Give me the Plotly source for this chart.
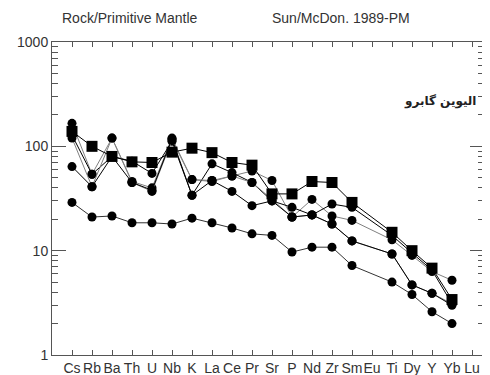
import plotly.graph_objects as go

elements = ["Cs", "Rb", "Ba", "Th", "U", "Nb", "K", "La", "Ce", "Pr", "Sr",
            "P", "Nd", "Zr", "Sm", "Eu", "Ti", "Dy", "Y", "Yb", "Lu"]

sample_sq = [139, 100, 80, 71, 70, 88, 96, 87, 70, 66, 35, 35, 46, 45, 29, None, 15, 10, 6.8, 3.4, None]
sample_c1 = [166, 54, 120, 46, 40, 120, 48, 46, 52, 58, 47, 21, 31, 21.5, 19.5, None, 12.7, 9, 6.3, 5.2, None]
sample_c2 = [128, 54, 80, 72, 55, 112, 34, 68, 56, 45, 30, 26, 22, 28, 26, None, 14, 9.5, 6.5, 3.1, None]
sample_c3 = [120, 41, 120, 45, 37, 115, 48, 47, 52, 45, 31, 21, 22, 18, 12.4, None, 9.3, 4.7, 3.9, 3.1, None]
sample_c4 = [64, 41, 80, 45, 38, 118, 34, 47, 37, 27, 30, 21, 22, 18, 12.4, None, 9.3, 4.7, 3.9, 3.0, None]
sample_c5 = [29, 21, 21.5, 18.5, 18.5, 18, 20.5, 18.5, 16.5, 14.5, 14, 9.7, 10.8, 10.8, 7.2, None, 5.0, 3.8, 2.6, 2.0, None]

yticks = [1, 10, 100, 1000]

x = list(range(len(elements)))
fig = go.Figure()

series = [
    (sample_c1, "circle", "#808080"),
    (sample_c2, "circle", "#000000"),
    (sample_c3, "circle", "#808080"),
    (sample_c4, "circle", "#000000"),
    (sample_c5, "circle", "#333333"),
    (sample_sq, "square", "#000000"),
]
for vals, sym, col in series:
    fig.add_trace(go.Scatter(
        x=x, y=vals, mode="lines+markers", connectgaps=True,
        line=dict(color=col, width=1),
        marker=dict(symbol=sym, size=11 if sym == "square" else 9, color="#000000",
                    line=dict(width=0)),
        showlegend=False, hoverinfo="skip"))

# page body has an 8px default margin; compensate so the plot area lands at 52..484 x 42..355
PW, PH = 432, 313
fig.update_layout(
    width=482, height=367,
    margin=dict(l=44, r=6, t=34, b=20),
    paper_bgcolor="white", plot_bgcolor="white",
    font=dict(family="Liberation Sans, Arial, sans-serif", size=14, color="#333333"),
)
fig.update_xaxes(
    range=[-1, 20.6], tickmode="array", tickvals=x, ticktext=elements,
    tickangle=0, automargin=False,
    ticks="inside", ticklen=5, tickcolor="#555555", tickwidth=1,
    showline=True, linecolor="#555555", linewidth=1, mirror="ticks",
    showgrid=False, zeroline=False, tickfont=dict(size=14, color="#333333"),
)
fig.update_yaxes(
    type="log", range=[0, 3], tickmode="array", tickvals=yticks,
    ticktext=[str(v) for v in yticks], automargin=False,
    ticks="inside", ticklen=14, tickcolor="#555555", tickwidth=1,
    minor=dict(ticks="inside", ticklen=6, tickcolor="#555555", showgrid=False,
               tickvals=[m * 10 ** e for e in range(3) for m in range(2, 10)]),
    showline=True, linecolor="#555555", linewidth=1, mirror="ticks",
    showgrid=False, zeroline=False, tickfont=dict(size=14, color="#333333"),
)

fig.add_annotation(xref="paper", yref="paper", x=(60 - 52) / PW, y=1 + (42 - 18) / PH,
                   xanchor="left", yanchor="middle", text="Rock/Primitive Mantle",
                   showarrow=False, font=dict(size=14, color="#333333"))
fig.add_annotation(xref="paper", yref="paper", x=(270 - 52) / PW, y=1 + (42 - 18) / PH,
                   xanchor="left", yanchor="middle", text="Sun/McDon. 1989-PM",
                   showarrow=False, font=dict(size=14, color="#333333"))
fig.add_annotation(xref="paper", yref="paper", x=(440 - 52) / PW, y=1 - (101 - 42) / PH,
                   xanchor="center", yanchor="middle", text="<b>الیوین گابرو</b>",
                   showarrow=False, font=dict(size=12, color="#222222",
                                              family="DejaVu Sans, Noto Sans, sans-serif"))

fig.write_html("out.html")
